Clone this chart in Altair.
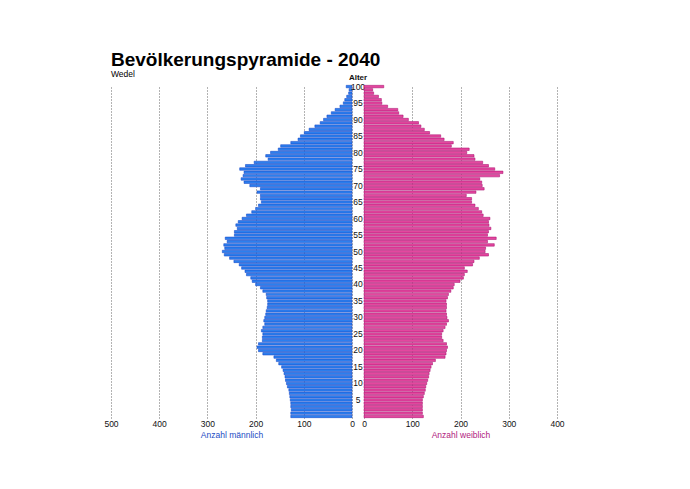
import altair as alt
import pandas as pd

ages = list(range(0, 101))
male = [127, 127, 126, 127, 127, 128, 129, 130, 131, 134,
        136, 138, 139, 141, 143, 146, 152, 157, 162, 185,
        194, 197, 194, 186, 186, 185, 188, 185, 181, 183,
        181, 179, 178, 176, 175, 175, 177, 178, 185, 190,
        200, 207, 210, 219, 222, 229, 234, 245, 254, 265,
        269, 264, 266, 259, 263, 244, 244, 238, 241, 236,
        228, 219, 208, 200, 194, 188, 190, 190, 197, 190,
        212, 224, 230, 226, 224, 233, 221, 203, 174, 179,
        169, 153, 148, 127, 112, 107, 99, 89, 77, 66,
        59, 52, 43, 35, 25, 18, 15, 11, 7, 6, 12]
female = [123, 121, 121, 121, 121, 121, 123, 125, 127, 128,
          130, 132, 134, 135, 137, 139, 142, 148, 168, 170,
          171, 173, 171, 164, 161, 161, 164, 168, 171, 175,
          172, 171, 170, 171, 171, 170, 173, 175, 180, 185,
          187, 199, 206, 208, 214, 208, 225, 228, 239, 258,
          251, 252, 270, 256, 274, 256, 258, 263, 259, 258,
          261, 247, 244, 237, 230, 223, 223, 212, 232, 249,
          245, 244, 240, 281, 288, 271, 258, 246, 230, 228,
          213, 218, 181, 185, 166, 159, 136, 125, 118, 113,
          92, 81, 72, 70, 49, 37, 36, 30, 20, 18, 41]
age_labels = list(range(5, 101, 5))
left_ticks = [0, 100, 200, 300, 400, 500]
right_ticks = [0, 100, 200, 300, 400]

df = pd.DataFrame({"age": ages, "male": male, "female": female})
lab = pd.DataFrame({"age": age_labels})
hdr = pd.DataFrame({"t": ["Alter"]})

FONT = "Liberation Sans"
H = 333
yscale = alt.Scale(domain=ages[::-1], paddingInner=0.25, paddingOuter=0.1)
Y = alt.Y("age:O", scale=yscale, axis=None)

def xaxis(title, color, values):
    return alt.Axis(values=values, title=title, titleColor=color, grid=True,
                    gridDash=[1, 2], gridColor="#666", gridWidth=1, domain=False,
                    ticks=False, labelPadding=1, labelFontSize=8.5, labelColor="#111",
                    labelFont=FONT, titleFont=FONT, titleFontSize=8.5,
                    titleFontWeight="normal", titlePadding=3, labelFlush=False,
                    format="d")

left = alt.Chart(df).mark_bar(color="#2c7fee", stroke="#1646c6", strokeWidth=0.55).encode(
    x=alt.X("male:Q", scale=alt.Scale(domain=[0, 500], reverse=True),
            axis=xaxis("Anzahl männlich", "#1b4cc4", left_ticks)),
    y=Y,
).properties(width=241, height=H)

mid_labels = alt.Chart(lab).mark_text(fontSize=8.5, font=FONT, color="#111",
                                      align="center", baseline="middle").encode(
    y=Y, x=alt.value(6), text="age:O")
mid_hdr = alt.Chart(hdr).mark_text(fontSize=8, font=FONT, fontWeight="bold", color="#111",
                                   align="center", baseline="middle").encode(
    text="t:N", x=alt.value(6), y=alt.value(-7))
mid = alt.layer(mid_labels, mid_hdr).properties(width=12, height=H)

right = alt.Chart(df).mark_bar(color="#e4479f", stroke="#a8106f", strokeWidth=0.55).encode(
    x=alt.X("female:Q", scale=alt.Scale(domain=[0, 400]),
            axis=xaxis("Anzahl weiblich", "#b01a7e", right_ticks)),
    y=Y,
).properties(width=193, height=H)

chart = alt.hconcat(left, mid, right, spacing=0, bounds="flush").properties(
    title=alt.TitleParams(text="Bevölkerungspyramide - 2040", subtitle="Wedel",
                          anchor="start", frame="group", fontSize=19, font=FONT,
                          fontWeight="bold", color="#000", subtitleFont=FONT,
                          subtitleFontSize=8.5, subtitleColor="#000",
                          subtitlePadding=0, offset=-4),
    padding={"left": 95, "top": 42, "right": 5, "bottom": 5},
).configure_view(strokeWidth=0)

chart.save("out.html", embed_options={"renderer": "svg", "actions": False})
